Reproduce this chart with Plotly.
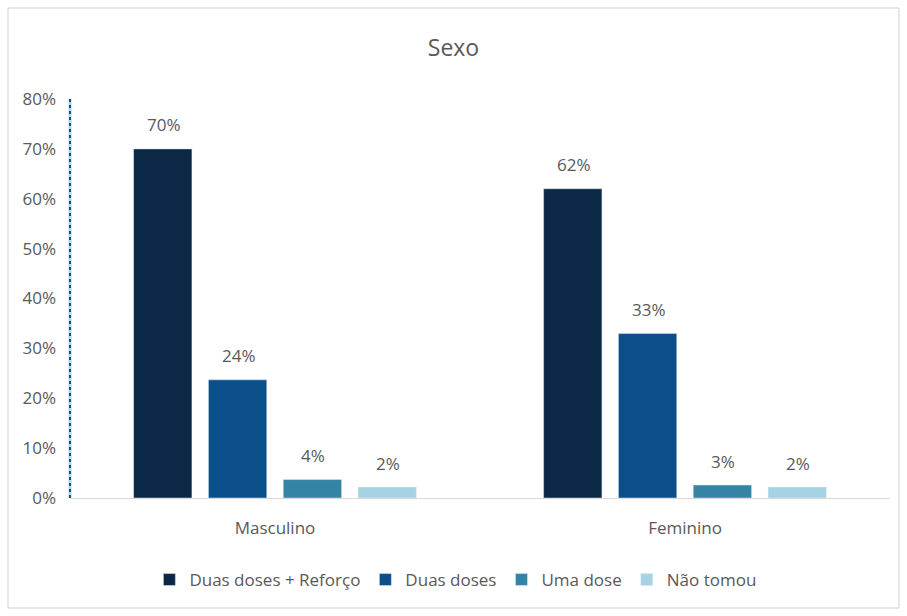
import plotly.graph_objects as go

categories = ["Masculino", "Feminino"]
series_names = ["Duas doses + Reforço", "Duas doses", "Uma dose", "Não tomou"]
duas_reforco = [0.70, 0.62]
duas_doses = [0.237, 0.33]
uma_dose = [0.037, 0.026]
nao_tomou = [0.022, 0.022]
series_values = [duas_reforco, duas_doses, uma_dose, nao_tomou]
colors = ["#0b2846", "#0b4f8a", "#3584a6", "#a6d3e3"]
y_ticks = [0, 0.1, 0.2, 0.3, 0.4, 0.5, 0.6, 0.7, 0.8]

FONT = "Open Sans"
GREY = "#595959"

W, H = 907, 616
ml, mr, mt, mb = 70, 17, 99, 118
pw, ph = W - ml - mr, H - mt - mb
BARGAP = 0.27
nser = len(series_names)
slot_px = pw / len(categories) * (1 - BARGAP) / nser

def px_to_paper_x(px):
    return (px - ml) / pw

def px_to_paper_y(py):
    return (H - mb - py) / ph

fig = go.Figure()
annotations = []
for i, (name, vals, col) in enumerate(zip(series_names, series_values, colors)):
    fig.add_trace(go.Bar(x=categories, y=vals, name=name, marker_color=col))
    for cat, v in zip(categories, vals):
        annotations.append(dict(
            x=cat, y=v, xref="x", yref="y", text=f"{v:.0%}", showarrow=False,
            xshift=(i - (nser - 1) / 2) * slot_px + 1, yshift=24, yanchor="middle",
            font=dict(family=FONT, size=17, color=GREY)))

fig.update_layout(
    width=W, height=H,
    margin=dict(l=ml, r=mr, t=mt, b=mb),
    paper_bgcolor="white", plot_bgcolor="white",
    barmode="group", bargap=BARGAP, bargroupgap=0.22,
    font=dict(family=FONT, color=GREY, size=17),
    title=dict(text="Sexo", x=0.5, xanchor="center", y=1 - 48 / H, yanchor="middle",
               font=dict(family=FONT, size=23, color=GREY)),
    legend=dict(orientation="h", x=0.47, xanchor="center",
                y=px_to_paper_y(580), yanchor="middle",
                font=dict(family=FONT, size=17, color=GREY),
                itemwidth=30, traceorder="normal"),
    xaxis=dict(showline=True, linecolor="#d9d9d9", linewidth=1, ticks="",
               tickfont=dict(family=FONT, size=17, color=GREY),
               ticklabelstandoff=15),
    yaxis=dict(range=[0, 0.8], tickvals=y_ticks, tickformat=".0%",
               showgrid=False, zeroline=False, showline=False, ticks="",
               tickfont=dict(family=FONT, size=17, color=GREY),
               ticklabelstandoff=13),
    annotations=annotations,
    shapes=[
        dict(type="rect", xref="paper", yref="paper",
             x0=px_to_paper_x(8), x1=px_to_paper_x(899),
             y0=px_to_paper_y(608), y1=px_to_paper_y(8),
             line=dict(color="#d0d0d0", width=1), layer="below"),
        dict(type="line", xref="paper", yref="paper", x0=0, x1=0, y0=0, y1=1,
             line=dict(color="#a9dcef", width=3)),
        dict(type="line", xref="paper", yref="paper", x0=0, x1=0, y0=0, y1=1,
             line=dict(color="#1f4e6e", width=2, dash="dot")),
    ],
)

fig.write_html("out.html")
